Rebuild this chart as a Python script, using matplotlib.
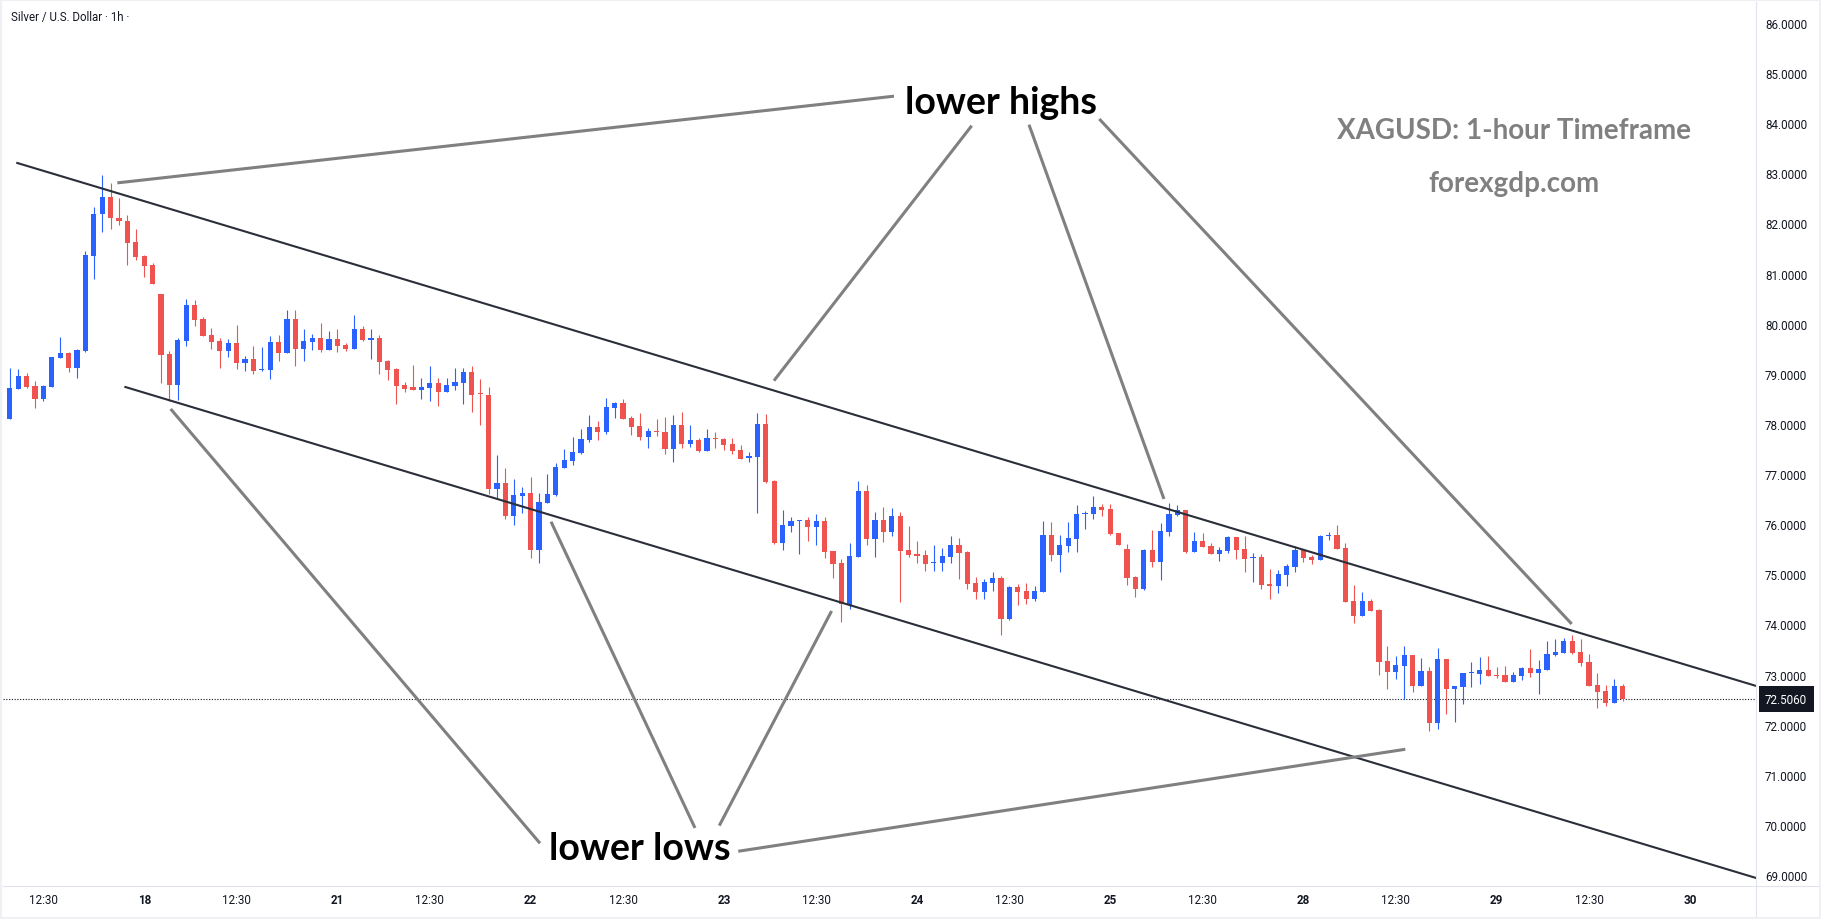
import numpy as np
import matplotlib
matplotlib.use('Agg')
import matplotlib.pyplot as plt
from matplotlib.patches import Rectangle
from matplotlib.lines import Line2D

W, H = 1821, 920

# hourly candles, bar 0 = 17th 08:30
opens = [78.10, 78.70, 78.96, 78.76, 78.49, 78.74, 79.32, 79.42, 79.12, 79.46,
         81.36, 82.18, 82.53, 82.11, 82.05, 81.63, 81.35, 81.17, 80.59, 79.40,
         78.78, 79.66, 80.37, 80.09, 79.77, 79.65, 79.46, 79.62, 79.22, 79.30,
         79.08, 79.08, 79.64, 79.42, 80.09, 79.50, 79.64, 79.71, 79.48, 79.70,
         79.57, 79.50, 79.89, 79.68, 79.71, 79.26, 79.10, 78.78, 78.74, 78.68,
         78.72, 78.82, 78.64, 78.76, 78.82, 79.04, 78.60, 78.58, 76.70, 76.82,
         76.17, 76.56, 76.62, 75.49, 76.42, 76.58, 77.12, 77.26, 77.42, 77.68,
         77.94, 77.84, 78.32, 78.42, 78.12, 77.96, 77.74, 77.86, 77.84, 77.50,
         77.98, 77.60, 77.68, 77.46, 77.72, 77.70, 77.60, 77.48, 77.32, 77.34,
         78.00, 76.86, 75.63, 75.96, 76.06, 76.08, 75.94, 76.06, 75.47, 75.23,
         74.39, 75.35, 76.66, 75.70, 76.08, 75.85, 76.16, 75.48, 75.40, 75.39,
         75.23, 75.23, 75.35, 75.58, 75.44, 74.83, 74.65, 74.83, 74.93, 74.11,
         74.75, 74.67, 74.51, 74.65, 75.78, 75.39, 75.56, 75.70, 76.20, 76.20,
         76.34, 76.30, 75.82, 75.50, 74.95, 74.71, 75.48, 75.25, 75.84, 76.18,
         76.28, 75.44, 75.66, 75.56, 75.40, 75.46, 75.74, 75.50, 75.33, 75.35,
         74.81, 74.77, 74.99, 75.15, 75.49, 75.35, 75.29, 75.76, 75.78, 75.53,
         74.47, 74.17, 74.47, 74.29, 73.27, 73.05, 73.17, 73.39, 72.77, 73.07,
         72.03, 73.31, 72.71, 72.75, 73.03, 73.01, 73.09, 72.99, 72.99, 72.85,
         72.97, 73.13, 73.03, 73.09, 73.39, 73.43, 73.67, 73.45, 73.25, 72.79,
         72.67, 72.43, 72.77]
highs = [79.12, 79.10, 79.02, 78.85, 78.78, 79.34, 79.74, 79.44, 79.50, 81.45,
         82.32, 82.97, 82.81, 82.51, 82.17, 81.89, 81.37, 81.21, 80.59, 79.46,
         79.71, 80.49, 80.47, 80.13, 79.91, 79.71, 79.70, 79.97, 79.36, 79.56,
         79.54, 79.76, 79.78, 80.27, 80.27, 79.89, 79.79, 80.01, 79.86, 79.89,
         79.62, 80.17, 79.95, 79.89, 79.78, 79.28, 79.12, 78.84, 79.18, 78.92,
         79.16, 78.92, 78.92, 79.12, 79.12, 79.16, 78.90, 78.74, 77.38, 77.12,
         76.90, 76.74, 76.94, 76.62, 77.00, 77.22, 77.50, 77.74, 77.90, 78.18,
         78.06, 78.52, 78.44, 78.50, 78.16, 78.22, 77.92, 78.10, 78.14, 78.18,
         78.24, 77.98, 77.72, 77.90, 77.84, 77.72, 77.72, 77.58, 77.44, 78.22,
         78.20, 76.88, 76.28, 76.14, 76.08, 76.14, 76.20, 76.14, 75.47, 75.30,
         75.62, 76.86, 76.78, 76.24, 76.34, 76.32, 76.24, 75.96, 75.66, 75.48,
         75.58, 75.52, 75.76, 75.72, 75.46, 74.95, 74.91, 75.05, 74.97, 74.77,
         74.81, 74.83, 74.77, 76.06, 76.04, 75.78, 76.04, 76.38, 76.26, 76.56,
         76.40, 76.40, 75.82, 75.60, 74.97, 75.50, 75.88, 76.02, 76.42, 76.38,
         76.28, 75.84, 75.82, 75.62, 75.54, 75.76, 75.74, 75.76, 75.42, 75.40,
         75.11, 75.09, 75.21, 75.56, 75.49, 75.39, 75.78, 75.84, 75.98, 75.63,
         74.79, 74.65, 74.51, 74.31, 73.57, 73.37, 73.57, 73.39, 73.33, 73.15,
         73.53, 73.31, 72.77, 73.03, 73.25, 73.35, 73.37, 73.15, 73.17, 73.05,
         73.15, 73.51, 73.29, 73.67, 73.71, 73.73, 73.79, 73.71, 73.41, 73.03,
         72.79, 72.91, 72.81]
lows = [78.10, 78.70, 78.72, 78.32, 78.45, 78.74, 79.32, 79.04, 78.92, 79.44,
        80.89, 81.82, 81.88, 81.97, 81.18, 81.28, 80.94, 80.80, 78.82, 78.45,
        78.47, 79.56, 79.96, 79.76, 79.50, 79.12, 79.34, 79.10, 79.06, 79.00,
        79.06, 78.90, 79.26, 79.42, 79.16, 79.26, 79.48, 79.44, 79.48, 79.44,
        79.46, 79.50, 79.66, 79.30, 79.00, 78.88, 78.39, 78.64, 78.68, 78.50,
        78.45, 78.35, 78.64, 78.68, 78.40, 78.23, 77.97, 76.60, 76.50, 76.10,
        75.98, 76.22, 75.33, 75.23, 76.42, 76.56, 77.12, 77.18, 77.40, 77.64,
        77.68, 77.80, 78.12, 78.10, 77.78, 77.68, 77.52, 77.76, 77.40, 77.24,
        77.52, 77.54, 77.44, 77.46, 77.52, 77.48, 77.40, 77.30, 77.24, 76.22,
        76.82, 75.61, 75.49, 75.85, 75.41, 75.66, 75.59, 75.33, 74.93, 74.05,
        74.31, 75.35, 75.59, 75.35, 75.65, 75.77, 74.45, 75.35, 75.23, 75.07,
        75.07, 75.07, 75.23, 74.91, 74.71, 74.51, 74.51, 74.67, 73.79, 74.09,
        74.39, 74.41, 74.47, 74.65, 75.27, 75.05, 75.44, 75.44, 75.90, 76.10,
        76.16, 75.78, 75.58, 74.79, 74.55, 74.69, 75.15, 74.89, 75.76, 76.16,
        75.42, 75.44, 75.54, 75.40, 75.27, 75.42, 75.31, 75.05, 74.85, 74.71,
        74.51, 74.63, 74.77, 75.05, 75.25, 75.21, 75.29, 75.69, 75.50, 74.45,
        74.03, 74.17, 74.27, 72.99, 72.71, 72.91, 72.51, 72.65, 72.77, 71.87,
        71.91, 72.21, 72.05, 72.41, 72.75, 72.81, 72.97, 72.93, 72.85, 72.85,
        72.89, 72.95, 72.61, 73.09, 73.37, 73.43, 73.41, 73.17, 72.77, 72.33,
        72.37, 72.43, 72.47]
closes = [78.72, 78.96, 78.74, 78.49, 78.76, 79.34, 79.42, 79.12, 79.48, 81.37,
          82.19, 82.53, 82.10, 82.04, 81.62, 81.34, 81.16, 80.80, 79.38, 78.78,
          79.67, 80.37, 80.08, 79.76, 79.64, 79.46, 79.62, 79.22, 79.30, 79.06,
          79.10, 79.64, 79.42, 80.09, 79.50, 79.65, 79.71, 79.48, 79.70, 79.56,
          79.50, 79.89, 79.68, 79.71, 79.24, 79.08, 78.76, 78.70, 78.68, 78.74,
          78.82, 78.64, 78.78, 78.84, 79.04, 78.58, 78.59, 76.70, 76.82, 76.17,
          76.58, 76.62, 75.49, 76.44, 76.60, 77.14, 77.28, 77.44, 77.70, 77.94,
          77.84, 78.34, 78.42, 78.10, 77.94, 77.74, 77.86, 77.83, 77.50, 77.98,
          77.60, 77.68, 77.46, 77.72, 77.70, 77.58, 77.46, 77.30, 77.36, 78.00,
          76.84, 75.63, 75.98, 76.06, 76.08, 75.94, 76.06, 75.45, 75.21, 74.40,
          75.37, 76.66, 75.70, 76.08, 75.85, 76.16, 75.46, 75.39, 75.37, 75.21,
          75.25, 75.37, 75.58, 75.42, 74.81, 74.65, 74.85, 74.93, 74.11, 74.75,
          74.65, 74.51, 74.67, 75.78, 75.39, 75.58, 75.72, 76.20, 76.22, 76.34,
          76.28, 75.80, 75.58, 74.93, 74.71, 75.48, 75.25, 75.86, 76.20, 76.28,
          75.44, 75.66, 75.54, 75.40, 75.48, 75.74, 75.48, 75.31, 75.35, 74.79,
          74.77, 75.01, 75.17, 75.48, 75.33, 75.29, 75.76, 75.78, 75.50, 74.45,
          74.17, 74.47, 74.27, 73.25, 73.05, 73.19, 73.39, 72.77, 73.07, 72.03,
          73.31, 72.71, 72.77, 73.03, 73.04, 73.09, 72.97, 72.97, 72.85, 72.99,
          73.13, 73.03, 73.11, 73.41, 73.45, 73.67, 73.43, 73.23, 72.77, 72.65,
          72.43, 72.77, 72.506]

tick_pos = [4, 16, 27, 39, 50, 62, 73, 85, 96, 108, 119, 131, 142, 154, 165, 177, 188, 200]
tick_labels = ['12:30', '18', '12:30', '21', '12:30', '22', '12:30', '23', '12:30',
               '24', '12:30', '25', '12:30', '28', '12:30', '29', '12:30', '30']
price_ticks = list(range(69, 87))
last_price = 72.506

# drawings, as (bar index, price)
channel_upper = [(0.88, 83.207), (207.9, 72.772)]
channel_lower = [(13.75, 78.737), (207.9, 68.94)]
high_pointers = [[(12.79, 82.81), (105.25, 84.54)],
                 [(90.96, 78.863), (114.5, 83.951)],
                 [(121.32, 83.971), (137.39, 76.503)],
                 [(129.69, 84.085), (185.93, 74.009)]]
low_pointers = [[(63.11, 69.633), (19.14, 78.299)],
                [(81.56, 69.939), (64.42, 76.050)],
                [(84.45, 69.985), (97.82, 74.268)],
                [(86.71, 69.474), (166.12, 71.509)]]

BLUE = '#2962FF'
RED = '#EF5350'
TXT = '#131722'

fig = plt.figure(figsize=(W / 100, H / 100), dpi=100)
ax = fig.add_axes([3 / W, 1 - 887 / H, (1756 - 3) / W, (887 - 3) / H])

o = np.array(opens)
c = np.array(closes)
x = np.arange(len(o))
cols = np.where(c >= o, BLUE, RED)

ax.vlines(x, lows, highs, colors=cols, lw=0.8, zorder=3)
body = np.maximum(np.abs(c - o), 0.025)
ax.bar(x, body, bottom=np.minimum(o, c), width=0.62, color=cols, linewidth=0, zorder=4)

# channel
for seg in (channel_upper, channel_lower):
    xs, ys = zip(*seg)
    ax.plot(xs, ys, color='#2a2e39', lw=1.5, zorder=5)
for seg in high_pointers + low_pointers:
    xs, ys = zip(*seg)
    ax.plot(xs, ys, color='#808080', lw=2.2, solid_capstyle='butt', zorder=5)

ax.axhline(last_price, color=TXT, lw=0.8, ls=(0, (1, 1.5)), zorder=2)

ax.set_xlim(-0.82, 207.87)
ax.set_ylim(68.781, 86.419)

for s in ax.spines.values():
    s.set_visible(False)
ax.yaxis.tick_right()
ax.set_yticks(price_ticks)
ax.set_yticklabels([f'{p:.4f}' for p in price_ticks])
ax.tick_params(axis='y', length=0, pad=6.5, labelsize=8.4, labelcolor=TXT)
ax.set_xticks(tick_pos)
ax.set_xticklabels(tick_labels)
ax.tick_params(axis='x', length=0, pad=5, labelsize=8.4, labelcolor=TXT)
for lab in ax.get_xticklabels() + ax.get_yticklabels():
    lab.set_family('Roboto')
for lab, t in zip(ax.get_xticklabels(), tick_labels):
    if ':' not in t:
        lab.set_fontweight('bold')

# last price tag
ax.annotate(f'{last_price:.4f}', xy=(1, last_price), xycoords=('axes fraction', 'data'),
            xytext=(9, 0), textcoords='offset pixels', ha='left', va='center',
            fontsize=8.4, family='Roboto', color='white', annotation_clip=False,
            bbox=dict(boxstyle='square,pad=0.55', fc=TXT, ec='none'))

# separators and frame
fig.add_artist(Line2D([1756 / W, 1756 / W], [1 - 917 / H, 1 - 3 / H], color='#e0e3eb', lw=0.8))
fig.add_artist(Line2D([3 / W, 1818 / W], [1 - 887 / H, 1 - 887 / H], color='#e0e3eb', lw=0.8))
fig.add_artist(Rectangle((0, 0), 1, 1, transform=fig.transFigure, fill=False,
                         ec='#eef0f3', lw=3))

fig.text(11 / W, 1 - 21 / H, 'Silver / U.S. Dollar · 1h ·', fontsize=8.3,
         family='Roboto', color=TXT, ha='left', va='baseline')

fig.text(1001 / W, 1 - 114.3 / H, 'lower highs', fontsize=27, fontweight='bold',
         family='Lato', color='black', ha='center', va='baseline')
fig.text(639.7 / W, 1 - 860.3 / H, 'lower lows', fontsize=27, fontweight='bold',
         family='Lato', color='black', ha='center', va='baseline')
fig.text(1514 / W, 1 - 139.3 / H, 'XAGUSD: 1-hour Timeframe', fontsize=20, fontweight='bold',
         family='Lato', color='#808080', ha='center', va='baseline')
fig.text(1514 / W, 1 - 191.7 / H, 'forexgdp.com', fontsize=20, fontweight='bold',
         family='Lato', color='#808080', ha='center', va='baseline')

fig.savefig('out.png', dpi=100, facecolor='white')
